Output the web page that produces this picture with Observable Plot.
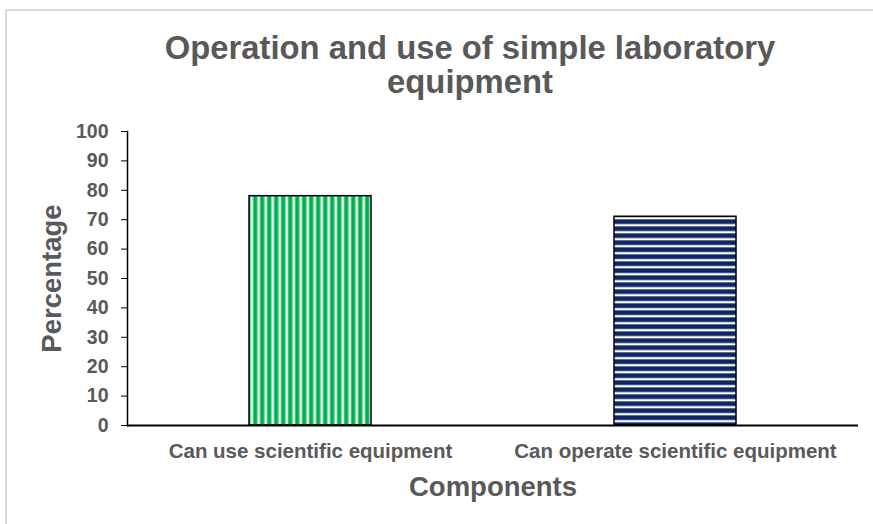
<!DOCTYPE html>
<html><head><meta charset="utf-8">
<script src="https://cdn.jsdelivr.net/npm/d3@7"></script>
<script src="https://cdn.jsdelivr.net/npm/@observablehq/plot@0.6"></script>
<style>
html,body{margin:0;padding:0;background:#fff;}
#wrap{position:relative;width:873px;height:524px;overflow:hidden;font-family:"Liberation Sans",Arial,sans-serif;}
#frame{position:absolute;left:5px;top:9px;width:880px;height:530px;border-left:2px solid #d9d9d9;border-top:2px solid #d9d9d9;box-sizing:border-box;}
#title{position:absolute;left:0;top:0;width:873px;height:120px;}
#title div{position:absolute;left:70px;width:800px;text-align:center;font-weight:bold;font-size:32.8px;line-height:36px;color:#595959;}
#chart{position:absolute;left:0;top:120px;}
#chart svg g[aria-label="y-axis tick label"] text{font-size:19.5px;font-weight:bold;fill:#595959;}
#chart svg g[aria-label="x-axis tick label"] text{font-size:20.5px;font-weight:bold;fill:#595959;}
#chart svg g[aria-label="text"] text{font-size:27.5px;font-weight:bold;fill:#595959;}
</style></head>
<body>
<div id="wrap">
<div id="frame"></div>
<div id="title"><div style="top:30px">Operation and use of simple laboratory</div><div style="top:64px">equipment</div></div>
<div id="chart"></div>
</div>
<script>
const categories = ["Can use scientific equipment", "Can operate scientific equipment"];
const values = [78, 71];
const fills = ["url(#pGreen)", "url(#pBlue)"];
const yTicks = [0,10,20,30,40,50,60,70,80,90,100];
const data = categories.map((c,i)=>({category:c, value:values[i], fill:fills[i]}));

const plot = Plot.plot({
  width: 873,
  height: 404,
  marginTop: 11,
  marginLeft: 127,
  marginRight: 15,
  marginBottom: 99,
  style: {fontFamily: '"Liberation Sans", Arial, sans-serif', color: "#595959", background: "transparent"},
  x: {domain: categories, paddingInner: 0.666, paddingOuter: 0.333, label: null},
  y: {domain: [0,100], ticks: yTicks, label: null},
  marks: [
    Plot.barY(data, {x: "category", y: "value", fill: d => d.fill, stroke: "#000", strokeWidth: 1.5}),
    Plot.axisY({ticks: yTicks, tickSize: 6, tickPadding: 13, stroke: "#000", label: null}),
    Plot.frame({anchor: "left", stroke: "#000", strokeWidth: 1.5}),
    Plot.ruleY([0], {stroke: "#000", strokeWidth: 2}),
    Plot.axisX({tickSize: 0, tickPadding: 18, label: null}),
    Plot.text(["Percentage"], {frameAnchor: "left", textAnchor: "middle", dx: -75, rotate: -90}),
    Plot.text(["Components"], {frameAnchor: "bottom", dy: 70})
  ]
});

const ns = "http://www.w3.org/2000/svg";
const svg = plot.tagName.toLowerCase() === "svg" ? plot : plot.querySelector("svg");
svg.style.overflow = "visible";
const defs = document.createElementNS(ns, "defs");
defs.innerHTML = `
<pattern id="pGreen" patternUnits="userSpaceOnUse" width="7" height="7" x="0.5" y="0">
  <rect width="7" height="7" fill="#ffffff"/>
  <rect x="0" width="1" height="7" fill="#7fd6a4"/>
  <rect x="1" width="3" height="7" fill="#00b050"/>
  <rect x="4" width="1" height="7" fill="#3cc277"/>
  <rect x="5" width="1" height="7" fill="#c9eed8"/>
</pattern>
<pattern id="pBlue" patternUnits="userSpaceOnUse" width="7" height="7" x="0" y="1">
  <rect width="7" height="7" fill="#ffffff"/>
  <rect y="0" width="7" height="1" fill="#5d6f96"/>
  <rect y="1" width="7" height="3" fill="#0f2763"/>
  <rect y="4" width="7" height="1" fill="#3a4f82"/>
  <rect y="5" width="7" height="1" fill="#c6cedd"/>
</pattern>`;
svg.insertBefore(defs, svg.firstChild);
document.getElementById("chart").appendChild(plot);
</script>
</body></html>
